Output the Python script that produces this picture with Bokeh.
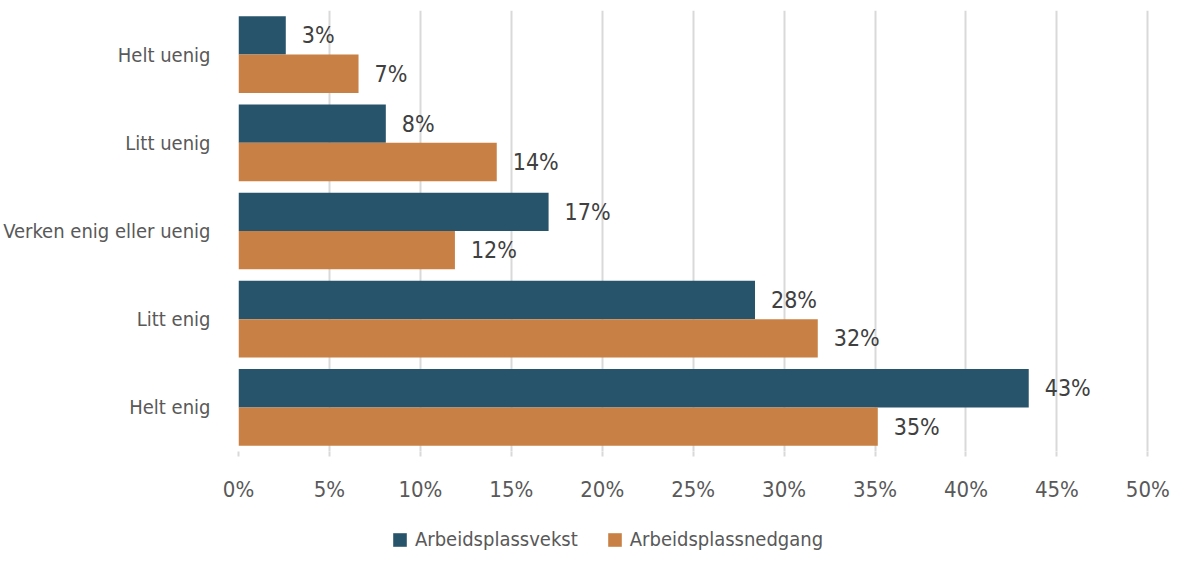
from bokeh.plotting import figure
from bokeh.layouts import column
from bokeh.models import ColumnDataSource, FactorRange, Range1d, Legend, LegendItem, FixedTicker, CustomJSTickFormatter
from bokeh.transform import dodge
from bokeh.core.properties import value
from bokeh.embed import file_html
from bokeh.resources import INLINE

categories = ["Helt uenig", "Litt uenig", "Verken enig eller uenig", "Litt enig", "Helt enig"]
vekst = [2.6, 8.1, 17.05, 28.4, 43.45]
nedgang = [6.6, 14.2, 11.9, 31.85, 35.15]
vekst_labels = ["3%", "8%", "17%", "28%", "43%"]
nedgang_labels = ["7%", "14%", "12%", "32%", "35%"]
series_names = ["Arbeidsplassvekst", "Arbeidsplassnedgang"]
ticks = [0, 5, 10, 15, 20, 25, 30, 35, 40, 45, 50]

FONT = "'DejaVu Sans Condensed', 'Liberation Sans Narrow', Roboto, sans-serif"
BLUE = "#28546b"
ORANGE = "#c88044"

src = ColumnDataSource(dict(cat=categories, v=vekst, n=nedgang, vl=vekst_labels, nl=nedgang_labels))

p = figure(frame_width=913, frame_height=441, output_backend="svg", toolbar_location=None,
           y_range=FactorRange(*categories[::-1], range_padding=0),
           x_range=Range1d(0, 50.2),
           min_border_left=230, min_border_right=20, min_border_top=10, min_border_bottom=49)
p.outline_line_color = None

OFF = 0.2175
rb = p.hbar(y=dodge("cat", OFF, range=p.y_range), right="v", left=0, height=0.435,
            source=src, fill_color=BLUE, line_color=None)
ro = p.hbar(y=dodge("cat", -OFF, range=p.y_range), right="n", left=0, height=0.435,
            source=src, fill_color=ORANGE, line_color=None)

p.text(x="v", y=dodge("cat", OFF, range=p.y_range), text="vl", source=src, x_offset=16,
       text_baseline="middle", text_align="left", text_font=value(FONT),
       text_font_size="23px", text_color="#404040")
p.text(x="n", y=dodge("cat", -OFF, range=p.y_range), text="nl", source=src, x_offset=16,
       text_baseline="middle", text_align="left", text_font=value(FONT),
       text_font_size="23px", text_color="#404040")

p.xaxis.ticker = FixedTicker(ticks=ticks)
p.xaxis.formatter = CustomJSTickFormatter(code="return tick + '%';")
p.xaxis.axis_line_color = None
p.xaxis.major_tick_line_color = "#d9d9d9"
p.xaxis.major_tick_line_width = 2
p.xaxis.major_tick_out = 5
p.xaxis.major_tick_in = 0
p.xaxis.minor_tick_line_color = None
p.xaxis.major_label_standoff = 20
p.xaxis.major_label_text_font = FONT
p.xaxis.major_label_text_font_size = "22px"
p.xaxis.major_label_text_color = "#595959"

p.yaxis.axis_line_color = None
p.yaxis.major_tick_line_color = None
p.yaxis.minor_tick_line_color = None
p.yaxis.major_label_standoff = 22
p.yaxis.major_label_text_font = FONT
p.yaxis.major_label_text_font_size = "20px"
p.yaxis.major_label_text_color = "#595959"

p.xgrid.grid_line_color = "#d9d9d9"
p.xgrid.grid_line_width = 2
p.xgrid.ticker = FixedTicker(ticks=ticks)
p.ygrid.grid_line_color = None

# legend strip below the chart (dummy swatch renderers lie outside the visible range)
lf = figure(width=1163, height=47, output_backend="svg", toolbar_location=None,
            x_range=Range1d(0, 1), y_range=Range1d(0, 1),
            min_border_left=0, min_border_right=0, min_border_top=0, min_border_bottom=0)
lf.outline_line_color = None
lf.axis.visible = False
lf.grid.visible = False
lb = lf.rect(x=[5], y=[5], width=1, height=1, fill_color=BLUE, line_color=None)
lo = lf.rect(x=[5], y=[5], width=1, height=1, fill_color=ORANGE, line_color=None)
legend = Legend(items=[LegendItem(label=series_names[0], renderers=[lb]),
                       LegendItem(label=series_names[1], renderers=[lo])],
                orientation="horizontal", location=(153, 0),
                label_text_font=FONT, label_text_font_size="20px", label_text_color="#595959",
                glyph_width=17, glyph_height=17, spacing=28, label_standoff=7,
                border_line_color=None, background_fill_alpha=0, margin=0, padding=0)
lf.add_layout(legend, "center")

layout = column(p, lf, spacing=0)
open("out.html", "w").write(file_html(layout, INLINE))
